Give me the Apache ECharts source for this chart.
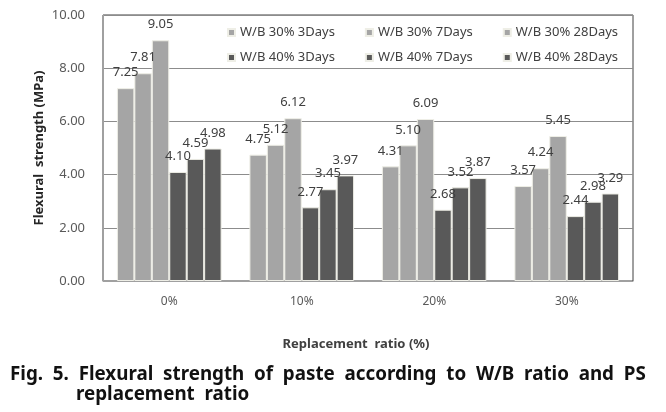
<!DOCTYPE html>
<html>
<head>
<meta charset="utf-8">
<script src="https://cdn.jsdelivr.net/npm/echarts@6/dist/echarts.min.js"></script>
<style>html,body{margin:0;padding:0;background:#fff}#c{width:666px;height:412px}</style>
</head>
<body>
<div id="c"></div>
<script>
var categories = ['0%', '10%', '20%', '30%'];
var seriesNames = ['W/B 30% 3Days', 'W/B 30% 7Days', 'W/B 30% 28Days', 'W/B 40% 3Days', 'W/B 40% 7Days', 'W/B 40% 28Days'];
var wb30_3 = [7.25, 4.75, 4.31, 3.57];
var wb30_7 = [7.81, 5.12, 5.10, 4.24];
var wb30_28 = [9.05, 6.12, 6.09, 5.45];
var wb40_3 = [4.10, 2.77, 2.68, 2.44];
var wb40_7 = [4.59, 3.45, 3.52, 2.98];
var wb40_28 = [4.98, 3.97, 3.87, 3.29];
var yTicks = {min: 0, max: 10, interval: 2};
var yAxisName = 'Flexural  strength (MPa)';
var xAxisName = 'Replacement  ratio (%)';
var captionLine1 = 'Fig.  5.  Flexural  strength  of  paste  according  to  W/B  ratio  and  PS';
var captionLine2 = 'replacement  ratio';

var values = [wb30_3, wb30_7, wb30_28, wb40_3, wb40_7, wb40_28];
var colors = ['#a5a5a5', '#a5a5a5', '#a5a5a5', '#595959', '#595959', '#595959'];
var font = 'Noto Sans';

var series = seriesNames.map(function (n, i) {
  return {
    name: n,
    type: 'bar',
    data: values[i],
    barGap: '0%',
    barCategoryGap: '21%',
    itemStyle: {color: colors[i], borderColor: '#eeeee6', borderWidth: 1},
    label: {
      show: true, position: 'top', distance: 9,
      formatter: function (p) { return p.value.toFixed(2); },
      color: '#404040', fontSize: 13, fontFamily: font
    }
  };
});

function legendRow(names, top) {
  return {
    data: names,
    left: 227, top: top,
    orient: 'horizontal',
    itemWidth: 7, itemHeight: 7, itemGap: 30,
    icon: 'rect',
    textStyle: {color: '#404040', fontSize: 13, fontFamily: font},
    padding: 0
  };
}

var chart = echarts.init(document.getElementById('c'), null, {renderer: 'canvas'});
chart.setOption({
  animation: false,
  backgroundColor: '#fff',
  color: colors,
  grid: {left: 103, right: 33, top: 15, bottom: 131, show: true, borderColor: '#404040', borderWidth: 1, backgroundColor: 'transparent'},
  legend: [legendRow(seriesNames.slice(0, 3), 26), legendRow(seriesNames.slice(3), 51)],
  xAxis: {
    type: 'category',
    data: categories,
    axisLine: {lineStyle: {color: '#a0a0a0'}},
    axisTick: {show: false},
    axisLabel: {color: '#595959', fontSize: 12, fontFamily: font, margin: 15},
    name: xAxisName,
    nameLocation: 'middle',
    nameGap: 57,
    nameMoveOverlap: false,
    nameTextStyle: {color: '#404040', fontSize: 13, fontWeight: 'bold', fontFamily: font, padding: [0, 24, 0, 0]}
  },
  yAxis: {
    type: 'value',
    min: yTicks.min, max: yTicks.max, interval: yTicks.interval,
    axisLine: {show: true, lineStyle: {color: '#a0a0a0'}},
    axisTick: {show: false},
    splitLine: {lineStyle: {color: '#8c8c8c'}},
    axisLabel: {color: '#595959', fontSize: 13, fontFamily: font, margin: 18, formatter: function (v) { return v.toFixed(2); }},
    name: yAxisName,
    nameLocation: 'middle',
    nameGap: 57,
    nameMoveOverlap: false,
    nameTextStyle: {color: '#262626', fontSize: 13, fontWeight: 'bold', fontFamily: font}
  },
  graphic: [
    {type: 'text', left: 10, top: 365, style: {text: captionLine1, fill: '#111', font: 'bold 18.8px "Noto Sans"'}},
    {type: 'text', left: 76, top: 385, style: {text: captionLine2, fill: '#111', font: 'bold 18.8px "Noto Sans"'}}
  ],
  series: series
});
</script>
</body>
</html>
